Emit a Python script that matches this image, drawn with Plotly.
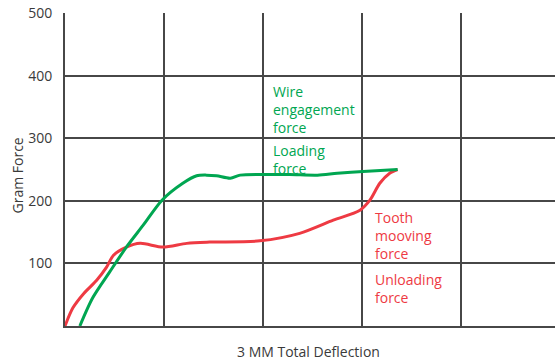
import plotly.graph_objects as go

# Deflection (grid units, 0-4.95) vs. gram force
green_x = [0.15, 0.28, 0.45, 0.62, 0.79, 0.98, 1.19, 1.33, 1.43, 1.53, 1.67, 1.77,
           2.0, 2.27, 2.55, 2.75, 3.01, 3.36]
green_y = [0, 45, 86, 126, 161, 201, 228, 240, 241, 240, 236, 241,
           242, 242, 241, 244, 247, 250]

red_x = [0.0, 0.08, 0.19, 0.32, 0.42, 0.49, 0.62, 0.76, 0.99, 1.23, 1.46, 1.97,
         2.37, 2.71, 2.98, 3.08, 3.18, 3.28, 3.36]
red_y = [0, 29, 52, 73, 94, 113, 126, 132, 126, 132, 134, 136,
         148, 169, 185, 201, 228, 244, 250]

y_ticks = [100, 200, 300, 400, 500]
x_grid = [1, 2, 3, 4]

GREEN = "#00A651"
RED = "#EE3A43"
GRID = "#474747"
TEXT = "#3a3a3a"
FONT = "Open Sans"

fig = go.Figure()
fig.add_trace(go.Scatter(x=red_x, y=red_y, mode="lines",
                         line=dict(color=RED, width=3, shape="spline", smoothing=0.8),
                         hoverinfo="skip"))
fig.add_trace(go.Scatter(x=green_x, y=green_y, mode="lines",
                         line=dict(color=GREEN, width=3, shape="spline", smoothing=0.8),
                         hoverinfo="skip"))

labels = [
    (2.08, 346, "Wire<br>engagement<br>force", GREEN),
    (2.08, 266, "Loading<br>force", GREEN),
    (3.11, 145, "Tooth<br>mooving<br>force", RED),
    (3.11, 60, "Unloading<br>force", RED),
]
for x, y, t, c in labels:
    fig.add_annotation(x=x, y=y, xref="x", yref="y", text=t, showarrow=False,
                       xanchor="left", yanchor="middle", align="left",
                       font=dict(family=FONT, size=14, color=c))

fig.add_annotation(x=0, y=0.5, xref="paper", yref="paper", text="Gram Force",
                   textangle=-90, showarrow=False, xanchor="center", yanchor="middle",
                   xshift=-48, yshift=-6, font=dict(family=FONT, size=14, color=TEXT))
fig.add_annotation(x=0.5, y=0, xref="paper", yref="paper", text="3 MM Total Deflection",
                   showarrow=False, xanchor="center", yanchor="middle",
                   xshift=-2, yshift=-25, font=dict(family=FONT, size=14, color=TEXT))

fig.update_layout(
    width=555, height=360,
    margin=dict(l=65, r=0, t=13, b=34),
    paper_bgcolor="white", plot_bgcolor="white",
    showlegend=False,
    xaxis=dict(range=[0, 4.95], tickvals=x_grid, showticklabels=False,
               showgrid=True, gridcolor=GRID, gridwidth=2,
               showline=True, linecolor=GRID, linewidth=2,
               zeroline=False, ticks="", fixedrange=True),
    yaxis=dict(range=[0, 500], tickvals=y_ticks,
               showgrid=True, gridcolor=GRID, gridwidth=2,
               showline=True, linecolor=GRID, linewidth=2,
               zeroline=False, ticks="", ticklabelstandoff=8,
               tickfont=dict(family=FONT, size=14, color=TEXT), fixedrange=True),
)

fig.write_html("out.html")
